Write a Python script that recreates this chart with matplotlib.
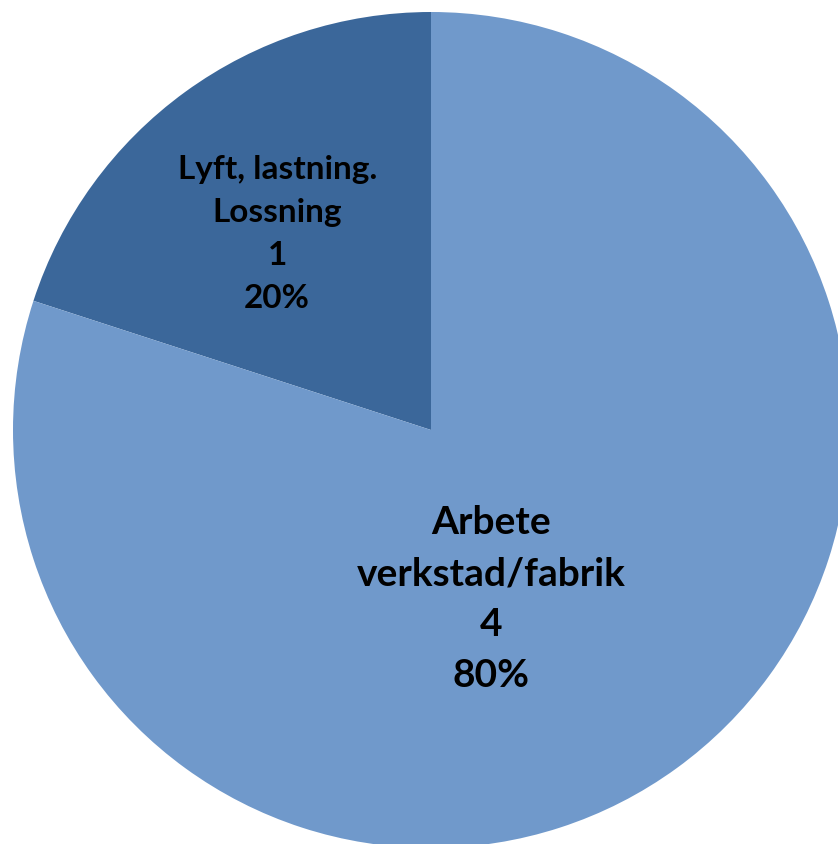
import matplotlib
matplotlib.use("Agg")
import matplotlib.pyplot as plt

# data
labels = ['Lyft, lastning.\nLossning', 'Arbete\nverkstad/fabrik']
counts = [1, 4]
colors = ['#3b679a', '#7099cb']

total = sum(counts)
plt.rcParams['font.family'] = ['Lato', 'DejaVu Sans']

fig = plt.figure(figsize=(8.38, 8.44), dpi=100)
# pie centre around (431, 430) px, radius ~418 px
ax = fig.add_axes([13 / 838, (844 - 430 - 418) / 844, 836 / 838, 836 / 844])
wedges, _ = ax.pie(counts, colors=colors, startangle=90, counterclock=True,
                   radius=1.0, wedgeprops=dict(linewidth=0))
ax.set_xlim(-1, 1)
ax.set_ylim(-1, 1)
ax.axis('off')

# label positions (data units inside the pie)
label_pos = [(-0.368, 0.468), (0.144, -0.405)]
label_size = [24, 28]
label_spacing = [1.58, 1.55]
for lab, n, (x, y), fs, ls in zip(labels, counts, label_pos, label_size, label_spacing):
    txt = f"{lab}\n{n}\n{n / total:.0%}"
    ax.text(x, y, txt, ha='center', va='center', fontsize=fs,
            fontweight='bold', linespacing=ls, color='black')

fig.savefig('out.png', dpi=100)
